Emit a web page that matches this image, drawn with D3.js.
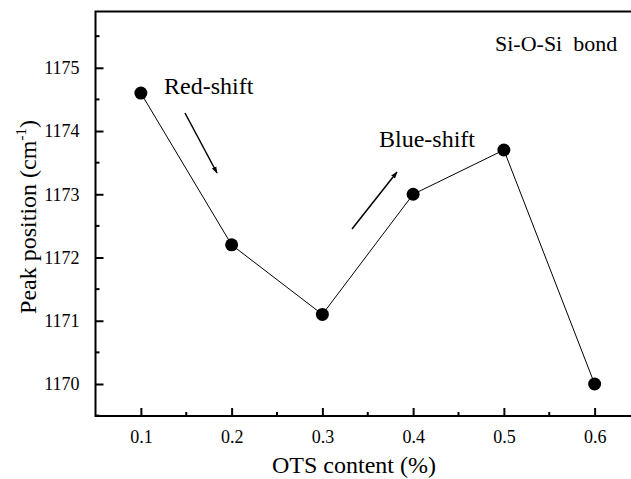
<!DOCTYPE html>
<html><head><meta charset="utf-8">
<script src="https://cdn.jsdelivr.net/npm/d3@7"></script>
<style>body{margin:0;background:#fff}svg{display:block}svg text{font-family:"Liberation Serif",serif !important;fill:#000}</style>
</head><body>
<script>
const otsContent = [0.1, 0.2, 0.3, 0.4, 0.5, 0.6];
const peakPosition = [1174.6, 1172.2, 1171.1, 1173.0, 1173.7, 1170.0];
const xTicks = [0.1, 0.2, 0.3, 0.4, 0.5, 0.6];
const xMinorTicks = [0.15, 0.25, 0.35, 0.45, 0.55];
const yTicks = [1170, 1171, 1172, 1173, 1174, 1175];
const yMinorTicks = [1169.5, 1170.5, 1171.5, 1172.5, 1173.5, 1174.5, 1175.5];

const W = 631, H = 479;
const L = 95.5, T = 11.5, B = 416, R = 640;
const FONT = "Liberation Serif";
const svg = d3.select("body").append("svg").attr("width", W).attr("height", H);
const x = d3.scaleLinear().domain([0.05, 0.65]).range([L, R]);
const y = d3.scaleLinear().domain([1169.494, 1175.89]).range([B, T]);

svg.append("defs").append("marker").attr("id","ah").attr("viewBox","0 0 10 10")
  .attr("refX",9).attr("refY",5).attr("markerWidth",7).attr("markerHeight",7)
  .attr("markerUnits","userSpaceOnUse").attr("orient","auto")
  .append("path").attr("d","M0,1.5L10,5L0,8.5Z").attr("fill","#000");

svg.append("rect").attr("x",L).attr("y",T).attr("width",R-L).attr("height",B-T)
  .attr("fill","none").attr("stroke","#000").attr("stroke-width",2);

const ya = svg.append("g").attr("transform",`translate(${L},0)`)
  .call(d3.axisLeft(y).tickValues(yTicks).tickSize(-8).tickPadding(16).tickFormat(d3.format("d")));
ya.attr("font-family",FONT).attr("font-size",18);
ya.select(".domain").remove();
ya.selectAll(".tick line").attr("stroke-width",2);
svg.append("g").selectAll("line").data(yMinorTicks).join("line")
  .attr("x1",L).attr("x2",L+4).attr("y1",d=>y(d)).attr("y2",d=>y(d)).attr("stroke","#000").attr("stroke-width",2);

const xa = svg.append("g").attr("transform",`translate(0,${B})`)
  .call(d3.axisBottom(x).tickValues(xTicks).tickSize(-8).tickPadding(14).tickFormat(d3.format(".1f")));
xa.attr("font-family",FONT).attr("font-size",18);
xa.select(".domain").remove();
xa.selectAll(".tick line").attr("stroke-width",2);
svg.append("g").selectAll("line").data(xMinorTicks).join("line")
  .attr("x1",d=>x(d)).attr("x2",d=>x(d)).attr("y1",B).attr("y2",B-4).attr("stroke","#000").attr("stroke-width",2);

const pts = otsContent.map((d,i)=>[d,peakPosition[i]]);
svg.append("path").datum(pts).attr("fill","none").attr("stroke","#000").attr("stroke-width",1)
  .attr("d", d3.line().x(d=>x(d[0])).y(d=>y(d[1])));
svg.append("g").selectAll("circle").data(pts).join("circle")
  .attr("cx",d=>x(d[0])).attr("cy",d=>y(d[1])).attr("r",6.5).attr("fill","#000");

svg.append("text").attr("x",354).attr("y",473).attr("text-anchor","middle").attr("font-size",24).text("OTS content (%)");
const yl = svg.append("text").attr("transform","translate(36,217) rotate(-90)").attr("text-anchor","middle").attr("font-size",24);
yl.append("tspan").text("Peak position (cm");
yl.append("tspan").attr("dy",-10).attr("font-size",15).text("-1");
yl.append("tspan").attr("dy",10).text(")");

svg.append("text").attr("x",495).attr("y",51).attr("font-size",22).style("white-space","pre").text("Si-O-Si  bond");
svg.append("text").attr("x",164).attr("y",94).attr("font-size",24).text("Red-shift");
svg.append("text").attr("x",379).attr("y",147).attr("font-size",24).text("Blue-shift");

svg.append("line").attr("x1",185).attr("y1",113).attr("x2",217).attr("y2",173)
  .attr("stroke","#000").attr("stroke-width",1.5).attr("marker-end","url(#ah)");
svg.append("line").attr("x1",352).attr("y1",229).attr("x2",397).attr("y2",172)
  .attr("stroke","#000").attr("stroke-width",1.5).attr("marker-end","url(#ah)");
</script>
</body></html>
